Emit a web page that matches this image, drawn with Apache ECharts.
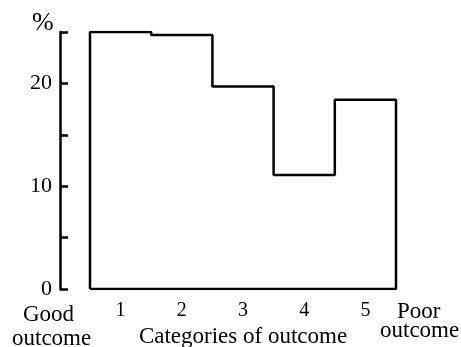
<!DOCTYPE html>
<html>
<head>
<meta charset="utf-8">
<script src="https://cdn.jsdelivr.net/npm/echarts@6/dist/echarts.min.js"></script>
<style>html,body{margin:0;padding:0;background:#fff;}#c{width:461px;height:347px;}</style>
</head>
<body>
<div id="c"></div>
<script>
var categories = ['1', '2', '3', '4', '5'];
var values = [25.0, 24.7, 19.7, 11.1, 18.4];
var yTickLabels = [0, 10, 20];
var yMax = 25;
var yStep = 5;

var pts = [[0, 0]];
values.forEach(function (v, i) { pts.push([i, v]); pts.push([i + 1, v]); });
pts.push([values.length, 0]);
pts.push([0, 0]);

var FONT = 'Liberation Serif';
var chart = echarts.init(document.getElementById('c'));
chart.setOption({
  animation: false,
  backgroundColor: '#fff',
  grid: [
    { left: 60, right: 65, top: 32, bottom: 58, containLabel: false, outerBoundsMode: 'none' },
    { left: 90, right: 65, top: 32, bottom: 58, containLabel: false, outerBoundsMode: 'none' }
  ],
  xAxis: [
    { gridIndex: 0, type: 'value', min: 0, max: 1, show: false },
    { gridIndex: 1, type: 'value', min: 0, max: categories.length, show: false },
    {
      gridIndex: 1, type: 'category', data: categories, boundaryGap: true, position: 'bottom',
      axisLine: { show: false }, axisTick: { show: false }, splitLine: { show: false },
      axisLabel: { color: '#000', fontFamily: FONT, fontSize: 20, margin: 12 },
      name: 'Categories of outcome', nameLocation: 'middle', nameGap: 28,
      nameTextStyle: { color: '#000', fontFamily: FONT, fontSize: 23 }
    }
  ],
  yAxis: [
    {
      gridIndex: 0, type: 'value', min: 0, max: yMax, interval: yStep,
      axisLine: { show: true, lineStyle: { color: '#000', width: 2.5 } },
      axisTick: { show: true, inside: true, length: 8, lineStyle: { color: '#000', width: 2.5 } },
      splitLine: { show: false },
      axisLabel: {
        color: '#000', fontFamily: FONT, fontSize: 22, margin: 8,
        formatter: function (v) { return yTickLabels.indexOf(v) >= 0 ? String(v) : ''; }
      }
    },
    { gridIndex: 1, type: 'value', min: 0, max: yMax, show: false }
  ],
  graphic: [
    { type: 'text', left: 32, top: 10, style: { text: '%', font: '26px "Liberation Serif"', fill: '#000' } },
    { type: 'text', left: 23, top: 303, style: { text: 'Good', font: '23px "Liberation Serif"', fill: '#000' } },
    { type: 'text', left: 12, top: 327, style: { text: 'outcome', font: '23px "Liberation Serif"', fill: '#000' } },
    { type: 'text', left: 397, top: 300, style: { text: 'Poor', font: '23px "Liberation Serif"', fill: '#000' } },
    { type: 'text', left: 380, top: 319, style: { text: 'outcome', font: '23px "Liberation Serif"', fill: '#000' } }
  ],
  series: [{
    type: 'line', xAxisIndex: 1, yAxisIndex: 1, data: pts, symbol: 'none',
    lineStyle: { color: '#000', width: 2.5 }
  }]
});
</script>
</body>
</html>
